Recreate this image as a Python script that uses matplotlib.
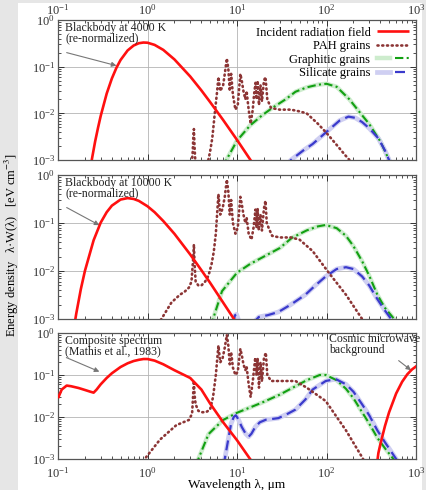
import matplotlib
matplotlib.use('Agg')
import matplotlib.pyplot as plt
from matplotlib.patches import Rectangle
from matplotlib.legend_handler import HandlerTuple

plt.rcParams['font.family'] = ['Liberation Serif', 'DejaVu Serif']
plt.rcParams['mathtext.fontset'] = 'stix'

# ---------------- data ----------------
# Panel 1: blackbody at 4000 K
bb1_wl = [0.2, 0.22, 0.24, 0.26, 0.28, 0.3, 0.35, 0.4, 0.45, 0.5, 0.6, 0.7, 0.8, 0.9, 1.0,
          1.2, 1.5, 2, 3, 4, 5, 7, 10, 14, 16]
bb1_val = [1.1e-4, 3.9e-4, 1.08e-3, 2.5e-3, 4.9e-3, 8.8e-3, 0.0265, 0.056, 0.095, 0.139, 0.223,
           0.284, 0.318, 0.329, 0.326, 0.293, 0.229, 0.143, 0.0617, 0.031, 0.0175, 0.0072,
           0.0027, 0.00103, 7e-4]
pah1_wl = [3.1, 3.2, 3.25, 3.3, 3.35, 3.45, 4.6, 5.0, 5.3, 5.7, 6.0, 6.2, 6.5, 7.0, 7.3, 7.7, 8.0,
           8.3, 8.6, 9.0, 9.6, 10.2, 10.9, 11.3, 11.8, 12.4, 12.8, 13.5, 14.2, 15.0, 15.5, 16.1,
           16.5, 17.0, 17.6, 18.3, 19.0, 20.0, 20.8, 21.8, 24, 30, 40, 50, 60, 80, 100, 130,
           160, 200]
pah1_val = [7e-4, 1.5e-3, 3e-3, 4.6e-3, 2e-3, 7e-4, 7e-4, 1.5e-3, 3e-3, 0.012, 0.03, 0.06, 0.03,
            0.04, 0.07, 0.15, 0.09, 0.03, 0.07, 0.025, 0.012, 0.015, 0.07, 0.05, 0.03, 0.02,
            0.03, 0.012, 0.006, 0.012, 0.025, 0.045, 0.02, 0.05, 0.015, 0.04, 0.018, 0.05,
            0.06, 0.02, 0.013, 0.012, 0.012, 0.011, 0.01, 0.006, 0.0038, 0.0021, 0.0013, 8e-4]
gra1_wl = [7.0, 7.6, 10, 14, 19, 24.7, 35, 45, 60, 80, 100, 130, 180, 240, 300, 400, 500, 550]
gra1_val = [7e-4, 1e-3, 2.6e-3, 5.5e-3, 9e-3, 0.013, 0.02, 0.029, 0.036, 0.041, 0.043, 0.037,
            0.02, 0.01, 5.9e-3, 2.5e-3, 1e-3, 7e-4]
sil1_wl = [35, 40, 55, 70, 100, 140, 176, 210, 250, 300, 380, 450, 500, 550]
sil1_val = [7e-4, 1e-3, 1.6e-3, 2.2e-3, 4e-3, 7e-3, 8.5e-3, 8e-3, 6.5e-3, 4.8e-3, 2.9e-3,
            1.6e-3, 1e-3, 7e-4]

# Panel 2: blackbody at 10000 K
bb2_wl = [0.15, 0.16, 0.18, 0.2, 0.25, 0.3, 0.35, 0.4, 0.5, 0.6, 0.7, 0.8, 1.0, 1.2, 1.5, 2,
          3, 4, 5, 7, 10, 12]
bb2_val = [6.2e-4, 1.3e-3, 4.2e-3, 0.0101, 0.0437, 0.102, 0.168, 0.23, 0.308, 0.33, 0.317,
           0.289, 0.223, 0.168, 0.11, 0.0595, 0.0221, 0.0104, 5.7e-3, 2.2e-3, 8.0e-4, 4.8e-4]
pah2_wl = [1.3, 1.43, 1.85, 2.3, 2.6, 2.9, 3.1, 3.25, 3.3, 3.35, 3.45, 3.7, 4.0, 4.4, 4.8, 5.2,
           5.5, 5.8, 6.2, 6.5, 6.9, 7.3, 7.7, 8.0, 8.3, 8.6, 9.0, 9.6, 10.2, 10.9, 11.3, 11.8,
           12.4, 12.8, 13.5, 14.5, 15.3, 16.1, 16.5, 17.0, 17.5, 18.3, 19.0, 20.0, 20.8, 21.5,
           22.7, 24.7, 30, 40, 50, 70, 107, 165, 250, 280]
pah2_val = [8e-4, 1e-3, 2.2e-3, 3.2e-3, 3.7e-3, 4.5e-3, 6e-3, 0.02, 0.036, 0.015, 6e-3, 5e-3,
            5e-3, 6e-3, 8e-3, 0.014, 0.025, 0.06, 0.4, 0.15, 0.2, 0.35, 0.8, 0.45, 0.15, 0.3,
            0.1, 0.06, 0.08, 0.35, 0.25, 0.15, 0.1, 0.13, 0.06, 0.045, 0.08, 0.19, 0.08, 0.2,
            0.07, 0.15, 0.07, 0.2, 0.29, 0.1, 0.077, 0.054, 0.05, 0.05, 0.045, 0.026, 9e-3,
            3.2e-3, 1e-3, 7e-4]
gra2_wl = [5.0, 5.4, 6.8, 10, 14, 19, 30, 41, 60, 80, 98, 130, 165, 200, 250, 300, 370, 450,
           570, 620]
gra2_val = [7e-4, 1e-3, 3.8e-3, 9.2e-3, 0.014, 0.019, 0.03, 0.049, 0.07, 0.085, 0.091, 0.078,
            0.054, 0.033, 0.016, 8e-3, 3.2e-3, 1.7e-3, 1e-3, 7e-4]
sil2_wl = [9.0, 9.5, 9.9, 10.5, float('nan'), 15, 17.5, 22, 29, 40, 58, 75, 98, 130, 165, 200,
           250, 300, 370, 450, 550]
sil2_val = [8e-4, 1.2e-3, 1.25e-3, 9e-4, float('nan'), 8e-4, 1.1e-3, 1.2e-3, 1.4e-3, 2e-3,
            3.2e-3, 5e-3, 7.7e-3, 0.011, 0.012, 0.011, 7.7e-3, 5e-3, 2.6e-3, 1.5e-3, 9e-4]

# Panel 3: composite spectrum (Mathis et al., 1983) + CMB
isrf_wl = [0.1, 0.11, 0.125, 0.14, 0.17, 0.2, 0.23, 0.25, 0.27, 0.3, 0.35, 0.4, 0.5, 0.6,
           0.7, 0.8, 0.9, 1.0, 1.2, 1.5, 2, 3, 4, 5, 7, 10, 14, 16]
isrf_val = [0.028, 0.045, 0.056, 0.054, 0.049, 0.044, 0.04, 0.038, 0.045, 0.06, 0.085, 0.11,
            0.155, 0.19, 0.215, 0.23, 0.24, 0.24, 0.22, 0.18, 0.13, 0.085, 0.045, 0.021,
            0.0075, 0.0028, 0.001, 7e-4]
cmb_wl = [370, 380, 400, 450, 500, 600, 700, 800, 900, 1000]
cmb_val = [9e-4, 1.39e-3, 2.26e-3, 6.1e-3, 0.0129, 0.0363, 0.069, 0.104, 0.135, 0.16]
pah3_wl = [0.85, 0.93, 1.38, 2.1, 2.9, 3.15, 3.25, 3.3, 3.35, 3.45, 3.7, 4.0, 4.5, 5.0, 5.4,
           5.8, 6.2, 6.5, 6.9, 7.3, 7.7, 8.0, 8.3, 8.6, 9.0, 9.6, 10.2, 10.9, 11.3, 11.8, 12.4,
           12.8, 13.5, 14.2, 15.0, 16.0, 16.5, 17.0, 17.6, 18.3, 19.0, 20.0, 21, 21.8, 24, 30,
           45, 60, 98, 165, 250, 270]
pah3_val = [7e-4, 1e-3, 2.9e-3, 6.4e-3, 8.5e-3, 0.012, 0.04, 0.073, 0.035, 0.02, 0.014, 0.013,
            0.013, 0.015, 0.03, 0.1, 0.5, 0.2, 0.25, 0.45, 0.9, 0.5, 0.18, 0.35, 0.15, 0.1,
            0.12, 0.42, 0.3, 0.18, 0.13, 0.16, 0.06, 0.03, 0.07, 0.26, 0.1, 0.25, 0.05, 0.2,
            0.07, 0.25, 0.34, 0.1, 0.072, 0.072, 0.072, 0.05, 0.024, 4.8e-3, 1.1e-3, 8e-4]
gra3_wl = [3.5, 3.7, 4.8, 5.4, 7, 10, 19, 30, 45, 60, 84, 98, 130, 165, 200, 250, 300, 370,
           450, 560, 600]
gra3_val = [7e-4, 1e-3, 3.9e-3, 5e-3, 8.5e-3, 0.0126, 0.022, 0.034, 0.054, 0.075, 0.1, 0.1,
            0.075, 0.047, 0.028, 0.013, 7e-3, 3.2e-3, 1.8e-3, 1e-3, 7e-4]
sil3_wl = [7.0, 7.3, 8.0, 8.6, 9.2, 9.7, 10.3, 11.3, 12.5, 13.5, 14.5, 16, 18, 21, 29, 37, 45,
           58, 70, 98, 127, 165, 200, 250, 300, 370, 450, 600, 650]
sil3_val = [7e-4, 1e-3, 3e-3, 7e-3, 0.01, 0.011, 9e-3, 5.8e-3, 4e-3, 3.4e-3, 4e-3, 5.8e-3,
            7.5e-3, 8.6e-3, 9.4e-3, 0.012, 0.015, 0.026, 0.045, 0.072, 0.08, 0.06, 0.04, 0.02,
            0.011, 4.8e-3, 2.5e-3, 1e-3, 7e-4]

legend_labels = ['Incident radiation field', 'PAH grains', 'Graphitic grains', 'Silicate grains']
panel_notes = ['Blackbody at 4000 K\n(re-normalized)', 'Blackbody at 10000 K\n(re-normalized)',
               'Composite spectrum\n(Mathis et al., 1983)']

# ---------------- styles ----------------
RED = '#ff1010'
PAH = '#8c3535'
GRN = '#12a012'
BLU = '#3a3acc'

W, H = 426, 490
fig = plt.figure(figsize=(W / 100, H / 100), dpi=100)
fig.patch.set_facecolor('#e6e6e6')
fig.patches.append(Rectangle((18 / W, 0), (422 - 18) / W, 1 - 3 / H, transform=fig.transFigure,
                             facecolor='white', edgecolor='none', zorder=-10))

def pos(top, bottom, left=58, right=416):
    return [left / W, 1 - bottom / H, (right - left) / W, (bottom - top) / H]

axes = [fig.add_axes(pos(20, 160)), fig.add_axes(pos(175, 319)), fig.add_axes(pos(333, 459))]

def draw(ax, bw, bv, pw, pv, gw, gv, sw, sv):
    h_red, = ax.plot(bw, bv, color=RED, lw=1.9, zorder=5, solid_capstyle='butt')
    h_pah, = ax.plot(pw, pv, color=PAH, lw=1.9, ls=(0, (0.4, 1.4)), dash_capstyle='round', zorder=4)
    g_halo, = ax.plot(gw, gv, color='#cdeccd', lw=3.2, zorder=2)
    h_gra, = ax.plot(gw, gv, color=GRN, lw=1.5, ls=(0, (4, 1.6, 1, 1.6)), zorder=3)
    s_halo, = ax.plot(sw, sv, color='#cfcff2', lw=3.4, zorder=2)
    h_sil, = ax.plot(sw, sv, color=BLU, lw=1.6, ls=(0, (4.5, 2.5)), zorder=3)
    return [h_red, h_pah, (g_halo, h_gra), (s_halo, h_sil)]

hs = draw(axes[0], bb1_wl, bb1_val, pah1_wl, pah1_val, gra1_wl, gra1_val, sil1_wl, sil1_val)
draw(axes[1], bb2_wl, bb2_val, pah2_wl, pah2_val, gra2_wl, gra2_val, sil2_wl, sil2_val)
draw(axes[2], isrf_wl, isrf_val, pah3_wl, pah3_val, gra3_wl, gra3_val, sil3_wl, sil3_val)
axes[2].plot(cmb_wl, cmb_val, color=RED, lw=1.9, zorder=5)

for i, ax in enumerate(axes):
    ax.set_xscale('log')
    ax.set_yscale('log')
    ax.set_xlim(0.1, 1000)
    ax.set_ylim(1e-3, 1)
    ax.set_yticks([1e-3, 1e-2, 1e-1, 1])
    ax.set_xticks([0.1, 1, 10, 100, 1000])
    ax.grid(True, which='major', color='#b4b4b4', lw=0.6, zorder=0)
    ax.tick_params(which='both', direction='in', top=True, right=True, labelsize=9,
                   colors='#333333', pad=2)
    ax.tick_params(which='major', length=4.5, width=0.7)
    ax.tick_params(which='minor', length=2.2, width=0.6)
    for sp in ax.spines.values():
        sp.set_color('#555555')
        sp.set_linewidth(0.9)
    ax.tick_params(labelbottom=(i == 2), labeltop=(i == 0))
    ax.text(0.02, 0.985, panel_notes[i], transform=ax.transAxes, ha='left', va='top',
            fontsize=8.5, linespacing=0.82, color='#222222', zorder=6)
axes[2].tick_params(axis='x', which='major', pad=5)

arrow = dict(arrowstyle='-|>', color='#777777', lw=0.8, mutation_scale=7, shrinkA=0, shrinkB=0)
axes[0].annotate('', xy=(0.45, 0.105), xytext=(0.125, 0.2), arrowprops=arrow)
axes[1].annotate('', xy=(0.29, 0.09), xytext=(0.125, 0.21), arrowprops=arrow)
axes[2].annotate('', xy=(0.29, 0.12), xytext=(0.124, 0.26), arrowprops=arrow)
axes[2].text(108, 0.98, 'Cosmic microwave\nbackground', ha='left', va='top', fontsize=8.5,
             linespacing=0.82, color='#222222', zorder=6)
axes[2].annotate('', xy=(880, 0.13), xytext=(640, 0.22), arrowprops=arrow)

leg = axes[0].legend(hs, legend_labels, loc='upper right', markerfirst=False, frameon=False,
                     fontsize=9, handlelength=2.6, labelspacing=0.12, borderaxespad=0.15,
                     handletextpad=0.5, handler_map={tuple: HandlerTuple(ndivide=None)})
leg.set_zorder(10)

axes[2].set_xlabel('Wavelength λ, μm', fontsize=9.5, labelpad=-1)
fig.text(12 / W, 0.5, 'Energy density   λ·W(λ)   [eV cm$^{-3}$]', rotation=90,
         ha='center', va='center', fontsize=9)

fig.savefig('out.png', dpi=100, facecolor=fig.get_facecolor())
